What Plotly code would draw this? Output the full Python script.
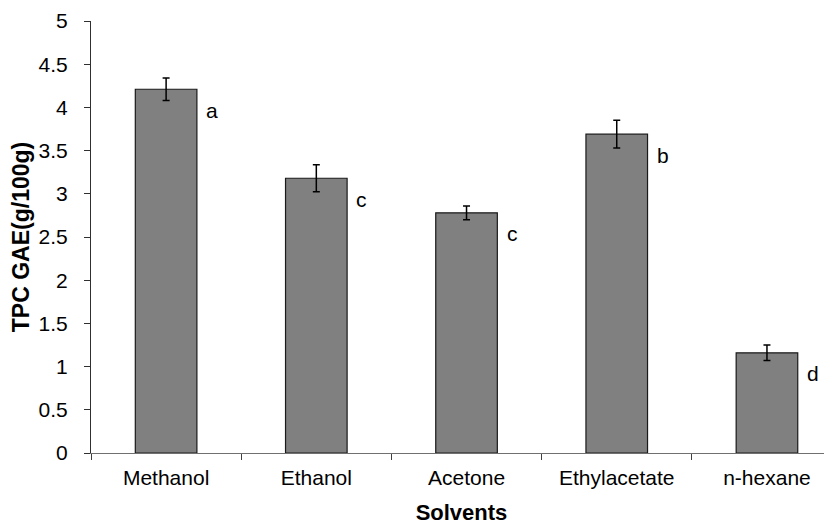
import plotly.graph_objects as go

solvents = ["Methanol", "Ethanol", "Acetone", "Ethylacetate", "n-hexane"]
tpc = [4.21, 3.18, 2.78, 3.69, 1.16]
err = [0.13, 0.155, 0.08, 0.16, 0.09]
letters = ["a", "c", "c", "b", "d"]
y_ticks = [0, 0.5, 1, 1.5, 2, 2.5, 3, 3.5, 4, 4.5, 5]

FONT = "Liberation Sans, Arial, Helvetica, sans-serif"

fig = go.Figure()
fig.add_trace(go.Bar(
    x=solvents, y=tpc,
    marker=dict(color="#808080", line=dict(color="#1a1a1a", width=1.2)),
    error_y=dict(type="data", array=err, visible=True, color="#000000",
                 thickness=1.5, width=3.5),
    width=0.41,
    showlegend=False,
))

for s, v, l in zip(solvents, tpc, letters):
    fig.add_annotation(x=s, y=v, text=l, showarrow=False,
                       xanchor="left", yanchor="middle",
                       xshift=38, yshift=-21,
                       font=dict(family=FONT, size=21, color="#000"))

fig.update_layout(
    width=824, height=518,
    margin=dict(l=83, r=0, t=13, b=73),
    plot_bgcolor="white", paper_bgcolor="white",
    font=dict(family=FONT, size=21, color="#000"),
    xaxis=dict(
        range=[-0.5, 4.433],
        showline=True, linecolor="#707070", linewidth=1.2,
        ticks="outside", tickson="boundaries", ticklen=6, tickcolor="#404040",
        ticklabelstandoff=6,
        showgrid=False, zeroline=False,
        tickfont=dict(family=FONT, size=21),
        title=dict(text="<b>Solvents</b>", font=dict(family=FONT, size=22), standoff=16),
    ),
    yaxis=dict(
        range=[0, 5],
        tickvals=y_ticks,
        ticktext=[f"{t:g}" for t in y_ticks],
        showline=True, linecolor="#303030", linewidth=1.2,
        ticks="outside", ticklen=6, tickcolor="#303030",
        ticklabelstandoff=12,
        showgrid=False, zeroline=False,
        tickfont=dict(family=FONT, size=21),
        title=dict(text="<b>TPC GAE(g/100g)</b>", font=dict(family=FONT, size=23), standoff=4),
    ),
)

fig.write_html("out.html")
